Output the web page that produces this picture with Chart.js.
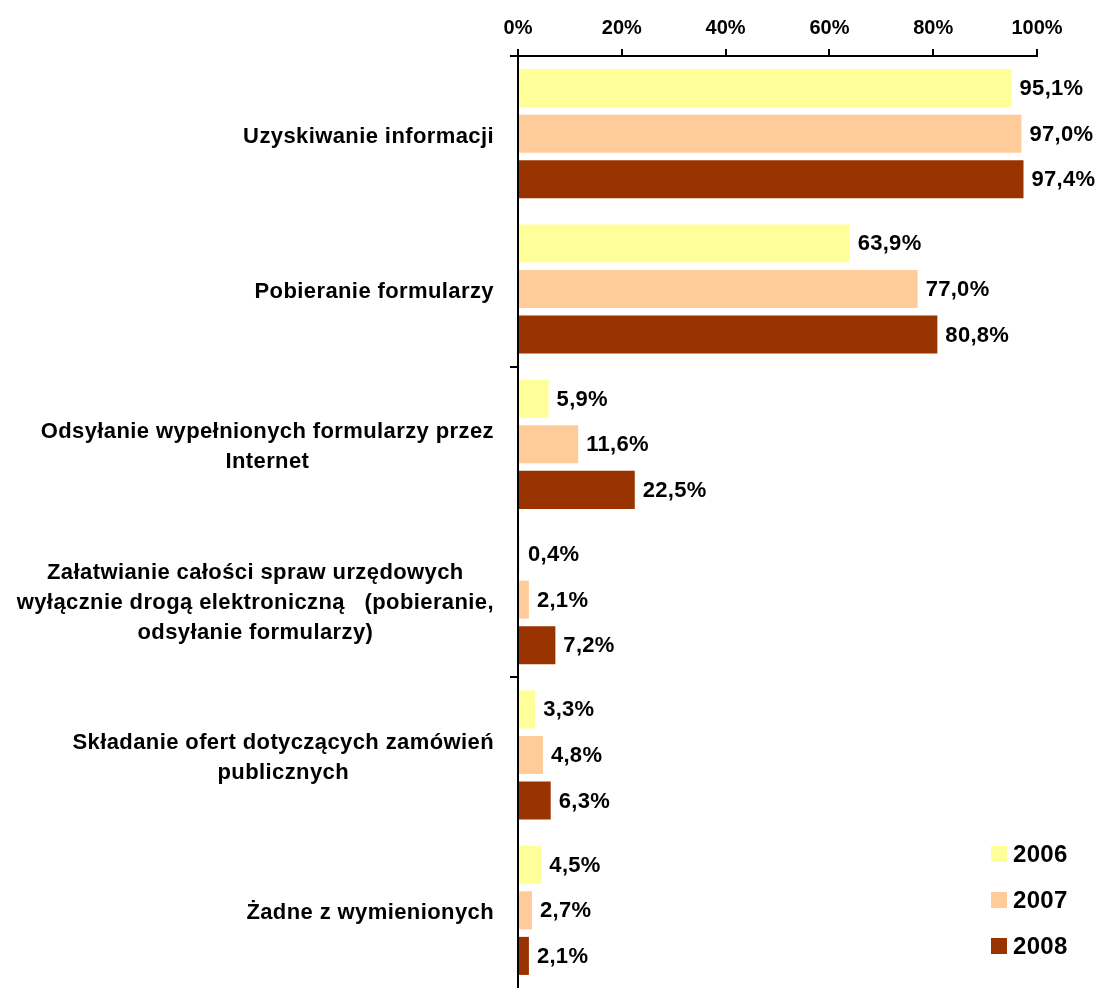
<!DOCTYPE html>
<html>
<head>
<meta charset="utf-8">
<script src="https://cdn.jsdelivr.net/npm/chart.js@4/dist/chart.umd.min.js"></script>
<style>
  body { margin: 0; background: #fff; }
  #wrap { width: 1097px; height: 988px; }
</style>
</head>
<body>
<div id="wrap"><canvas id="usage-chart" width="1097" height="988"></canvas></div>
<script>
const categories = [
    ['Uzyskiwanie informacji'],
    ['Pobieranie formularzy'],
    ['Odsyłanie wypełnionych formularzy przez', 'Internet'],
    ['Załatwianie całości spraw urzędowych', 'wyłącznie drogą elektroniczną   (pobieranie,', 'odsyłanie formularzy)'],
    ['Składanie ofert dotyczących zamówień', 'publicznych'],
    ['Żadne z wymienionych']
];
const years = ['2006', '2007', '2008'];
const values2006 = [95.1, 63.9, 5.9, 0.4, 3.3, 4.5];
const values2007 = [97.0, 77.0, 11.6, 2.1, 4.8, 2.7];
const values2008 = [97.4, 80.8, 22.5, 7.2, 6.3, 2.1];
const tickValues = [0, 20, 40, 60, 80, 100];
const barColors = ['#FFFF99', '#FFCC99', '#993300'];

const FONT = '"Liberation Sans", Arial, sans-serif';

function pct(v) {
    return v.toFixed(1).replace('.', ',') + '%';
}

// category names: block right-aligned to the axis, lines centred inside it
const categoryLabels = {
    id: 'categoryLabels',
    afterDraw(chart) {
        const ctx = chart.ctx;
        const y = chart.scales.y;
        const right = y.right - 24;
        const lineH = 30;
        ctx.save();
        ctx.font = 'bold 22px ' + FONT;
        ctx.letterSpacing = '0.4px';
        ctx.fillStyle = '#000';
        ctx.textAlign = 'center';
        ctx.textBaseline = 'middle';
        categories.forEach((lines, i) => {
            const w = Math.max(...lines.map(l => ctx.measureText(l).width));
            const cx = right - w / 2;
            const cy = y.getPixelForValue(i) + 3;
            lines.forEach((l, k) => {
                ctx.fillText(l, cx, cy + (k - (lines.length - 1) / 2) * lineH);
            });
        });
        ctx.restore();
    }
};

// value labels to the right of each bar
const valueLabels = {
    id: 'valueLabels',
    afterDatasetsDraw(chart) {
        const ctx = chart.ctx;
        ctx.save();
        ctx.font = 'bold 22px ' + FONT;
        ctx.letterSpacing = '0.3px';
        ctx.fillStyle = '#000';
        ctx.textAlign = 'left';
        ctx.textBaseline = 'middle';
        chart.data.datasets.forEach((ds, di) => {
            chart.getDatasetMeta(di).data.forEach((bar, i) => {
                ctx.fillText(pct(ds.data[i]), bar.x + 8, bar.y + 1);
            });
        });
        ctx.restore();
    }
};

// legend in the lower right corner
const cornerLegend = {
    id: 'cornerLegend',
    afterDraw(chart) {
        const ctx = chart.ctx;
        ctx.save();
        ctx.font = 'bold 24px ' + FONT;
        ctx.letterSpacing = '0.3px';
        ctx.textAlign = 'left';
        ctx.textBaseline = 'middle';
        chart.data.datasets.forEach((ds, i) => {
            const cy = 854 + i * 46;
            ctx.fillStyle = ds.backgroundColor;
            ctx.fillRect(991, cy - 8, 16, 16);
            ctx.fillStyle = '#000';
            ctx.fillText(ds.label, 1013, cy + 1);
        });
        ctx.restore();
    }
};

new Chart('usage-chart', {
    type: 'bar',
    data: {
        labels: categories,
        datasets: [
            { label: years[0], data: values2006, backgroundColor: barColors[0] },
            { label: years[1], data: values2007, backgroundColor: barColors[1] },
            { label: years[2], data: values2008, backgroundColor: barColors[2] }
        ]
    },
    options: {
        indexAxis: 'y',
        responsive: false,
        animation: false,
        layout: { padding: { left: 0, right: 60, top: 0, bottom: -4 } },
        datasets: {
            bar: { categoryPercentage: 0.88, barPercentage: 0.835 }
        },
        plugins: {
            legend: { display: false },
            tooltip: { enabled: false }
        },
        scales: {
            x: {
                position: 'top',
                min: 0,
                max: 100,
                afterBuildTicks(scale) {
                    scale.ticks = tickValues.map(v => ({ value: v }));
                },
                afterFit(scale) { scale.height = 56; },
                ticks: {
                    color: '#000',
                    padding: 9,
                    font: { family: FONT, size: 20, weight: 'bold' },
                    callback: v => v + '%'
                },
                grid: {
                    drawOnChartArea: false,
                    tickLength: 7,
                    color: '#000',
                    lineWidth: 2
                },
                border: { color: '#000', width: 2 }
            },
            y: {
                afterFit(scale) { scale.width = 518; },
                ticks: { display: false },
                grid: {
                    offset: true,
                    drawOnChartArea: false,
                    tickLength: 8,
                    lineWidth: 2,
                    // only every second category boundary carries a tick mark
                    tickColor: c => (c.index % 2 === 0 && c.index < categories.length) ? '#000' : 'rgba(0,0,0,0)'
                },
                border: { color: '#000', width: 2 }
            }
        }
    },
    plugins: [categoryLabels, valueLabels, cornerLegend]
});
</script>
</body>
</html>
